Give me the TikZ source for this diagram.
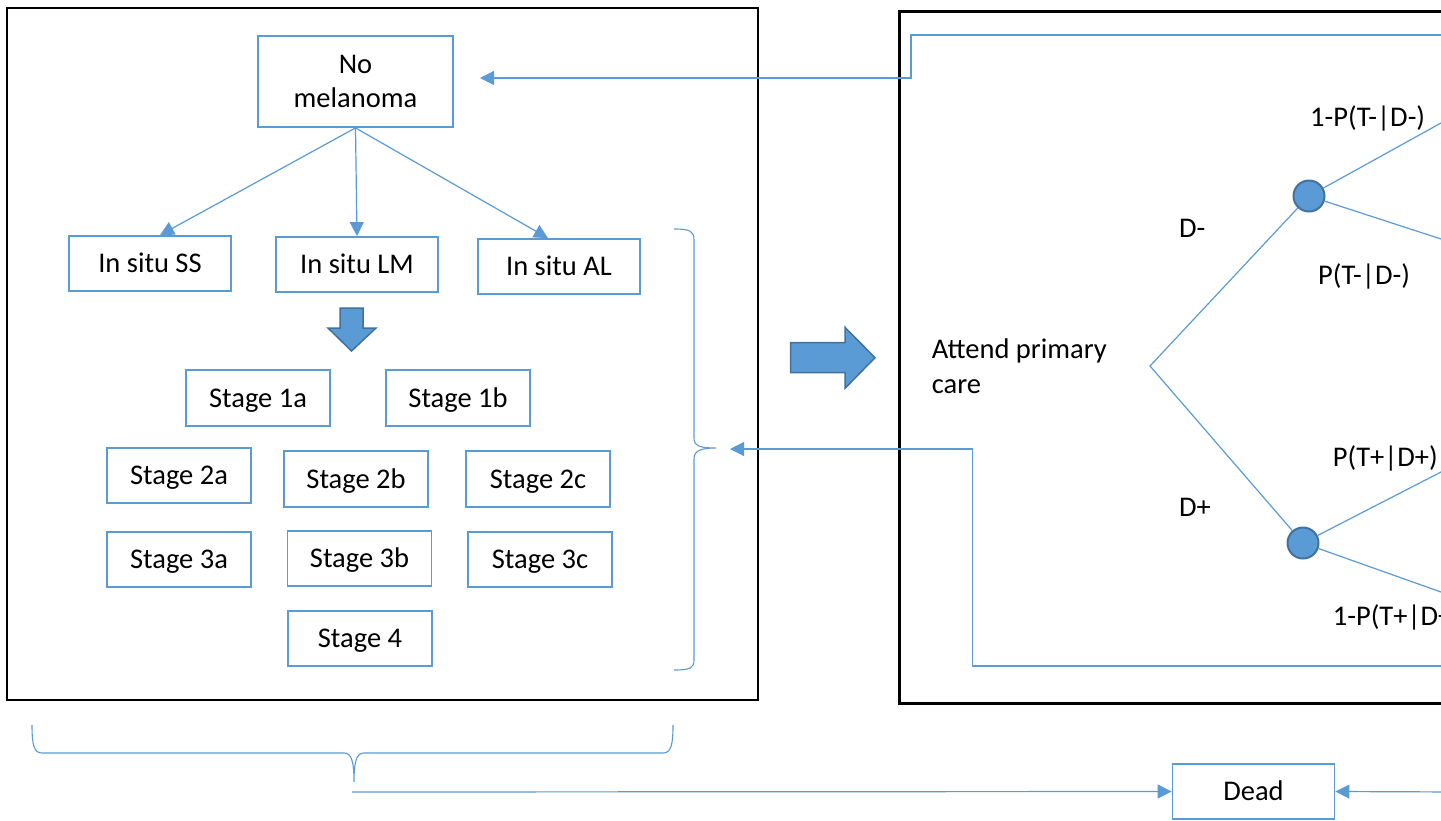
\documentclass[tikz,border=0pt]{standalone}
\usepackage{fontspec}
\setmainfont{Carlito}
\usetikzlibrary{arrows.meta}
\definecolor{obl}{HTML}{5B9BD5}
\definecolor{obd}{HTML}{41719C}
\tikzset{
  txt/.style={font=\fontsize{28.5}{34.8}\selectfont},
  bx/.style={txt,draw=obl,line width=1.8pt,fill=white,inner sep=0pt,text height=18.4pt,text depth=0pt},
  sbox/.style={bx,minimum width=144pt,minimum height=55.5pt},
  ibox/.style={bx,minimum width=162pt,minimum height=55pt},
  ln/.style={draw=obl,line width=1.2pt},
  arr/.style={ln,-{Triangle[length=14pt,width=14pt]}},
  frame/.style={draw=black,line width=2.6pt},
  blk/.style={fill=obl,draw=obd,line width=1.5pt,line join=miter},
  chance/.style={circle,fill=obl,draw=obd,line width=2pt,minimum size=31pt,inner sep=0pt},
  lbl/.style={txt,inner sep=0pt}
}
\begin{document}
\begin{tikzpicture}[x=1pt,y=-1pt]
\clip (0,0) rectangle (1441,820);
\fill[white] (0,0) rectangle (1441,820);
% frames
\draw[frame] (7,8) rectangle (758,700);
\draw[frame] (899.3,11.7) rectangle (1470,703.3);
% left boxes
\node[bx,minimum width=195pt,minimum height=91pt,align=center,text height=,text depth=] (nomel) at (355.5,81.5) {No\\[-0.5pt]melanoma};
\node[ibox] (ss) at (150,263.5) {In situ SS\hspace{14pt}};
\node[ibox] (lm) at (357,264.5) {In situ LM\hspace{6pt}};
\node[ibox] (al) at (559,266.5) {In situ AL\hspace{12pt}};
\node[sbox] (s1a) at (258,398) {Stage 1a};
\node[sbox] (s1b) at (458,398) {Stage 1b};
\node[sbox] (s2a) at (179,475.5) {Stage 2a};
\node[sbox] (s2b) at (356,479) {Stage 2b};
\node[sbox] (s2c) at (538,479) {Stage 2c};
\node[sbox] (s3a) at (179,559.5) {Stage 3a};
\node[sbox] (s3b) at (359.5,558.5) {Stage 3b};
\node[sbox] (s3c) at (540,559.5) {Stage 3c};
\node[sbox] (s4) at (360,638.5) {Stage 4\hspace{18pt}};
\node[ibox] (dead) at (1253.5,791.5) {Dead};
% arrows from No melanoma
\draw[arr] (nomel.south) -- ([xshift=10pt]ss.north);
\draw[arr] (nomel.south) -- (lm.north);
\draw[arr] (nomel.south) -- ([xshift=-11pt]al.north);
% block arrows
\draw[blk] (340,308) -- (363,308) -- (363,328) -- (376,328) -- (351.5,351) -- (328,328) -- (340,328) -- cycle;
\draw[blk] (790.7,342.7) -- (845,342.7) -- (845,327.3) -- (875,357.7) -- (845,388.3) -- (845,372.7) -- (790.7,372.7) -- cycle;
% right brace
\draw[ln,line width=1.1pt] (674,229) .. controls (690,229) and (694,231) .. (694,240) -- (694,438)
  .. controls (694,446) and (700,448) .. (716,448)
  .. controls (700,448) and (694,451) .. (694,459) -- (694,660)
  .. controls (694,668) and (690,670) .. (674,670);
% bottom brace
\draw[ln,line width=1.1pt] (32,725) .. controls (32,745) and (34,753) .. (42,753) -- (344,753)
  .. controls (351,753) and (354,760) .. (354,782)
  .. controls (354,760) and (357,753) .. (364,753) -- (663,753)
  .. controls (671,753) and (673,745) .. (673,725);
% connectors
\coordinate (tipA) at (480,78);
\coordinate (srcA) at (1460,35);
\draw[arr] (srcA) -| (911,78) -- (tipA);
\coordinate (tipB) at (730,449);
\coordinate (srcB) at (1460,666);
\draw[arr] (srcB) -| (972.7,449) -- (tipB);
\coordinate (dl) at (352,792);
\draw[arr] (dl) -- (dead.west);
\coordinate (dr) at (1460,792);
\draw[arr] (dr) -- (dead.east);
% decision tree
\node[lbl,align=left,anchor=base west] (apc) at (931.7,393) {Attend primary\\care};
\coordinate (root) at (1150,366);
\node[chance] (cm) at (1309,196) {};
\node[chance] (cp) at (1303,543) {};
\draw[ln] (cm) -- (root) -- (cp);
\coordinate (e1) at (1441,123);
\coordinate (e2) at (1441,239);
\coordinate (e3) at (1441,472);
\coordinate (e4) at (1441,592);
\draw[ln] (cm) -- (e1);
\draw[ln] (cm) -- (e2);
\draw[ln] (cp) -- (e3);
\draw[ln] (cp) -- (e4);
\node[lbl,anchor=base west] (l1) at (1310,126) {1-P(T-|D-)};
\node[lbl,anchor=base west] (l2) at (1179,237) {D-};
\node[lbl,anchor=base west] (l3) at (1318,284) {P(T-|D-)};
\node[lbl,anchor=base west] (l4) at (1179,516) {D+};
\node[lbl,anchor=base west] (l5) at (1332.7,466.7) {P(T+|D+)};
\node[lbl,anchor=base west] (l6) at (1332.7,625) {1-P(T+|D+)};
\end{tikzpicture}
\end{document}
